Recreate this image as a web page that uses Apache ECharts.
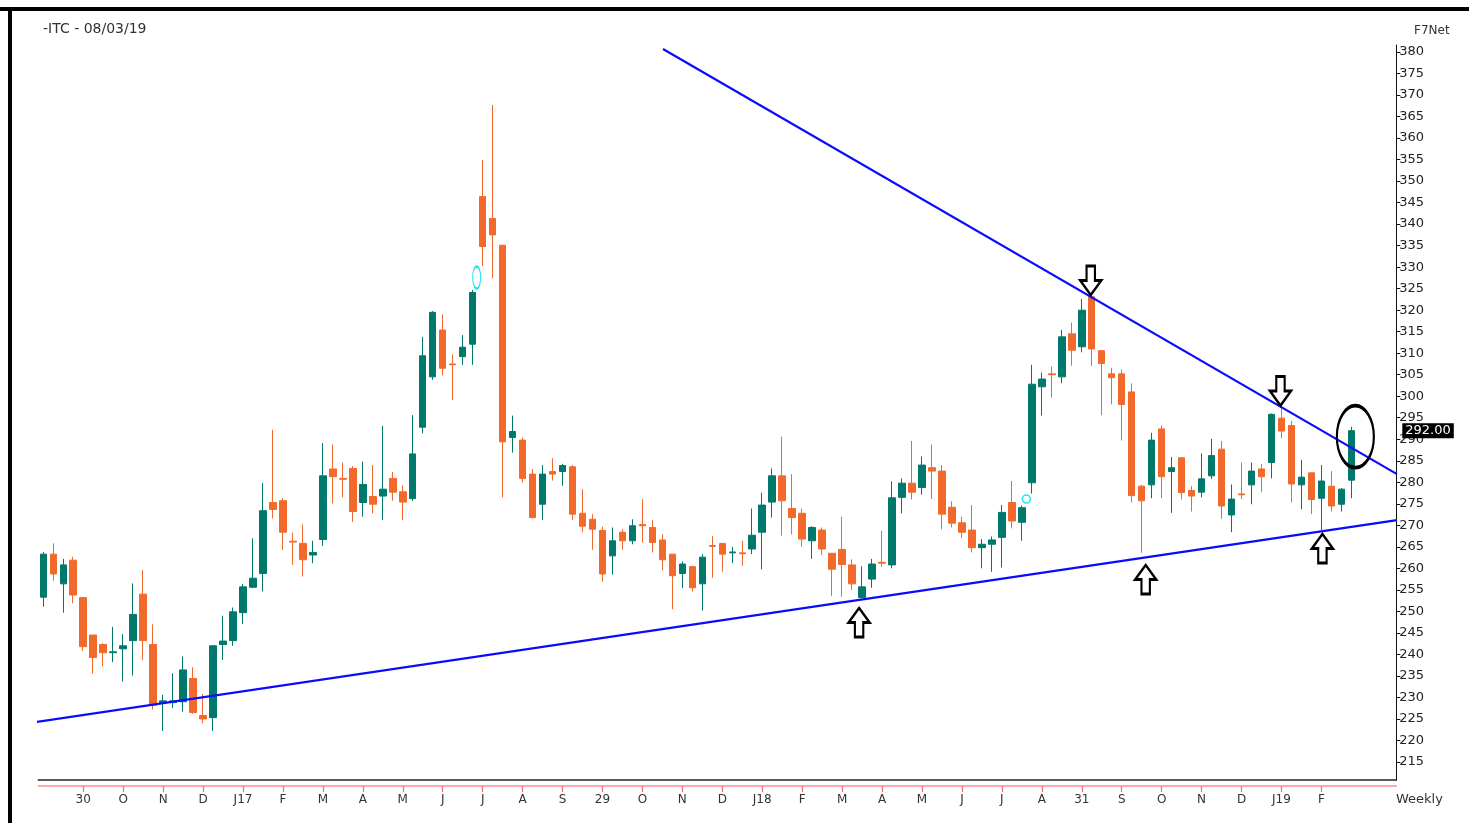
<!DOCTYPE html>
<html><head><meta charset="utf-8">
<script src="https://cdn.jsdelivr.net/npm/echarts@6/dist/echarts.min.js"></script>
<style>html,body{margin:0;padding:0;background:#fff}#main{width:1469px;height:823px}</style>
</head><body><div id="main"></div>
<script>
// Weekly ITC candles (open, close, low, high), first bar week of 02/09/16, last bar 08/03/19
const openP = [253.3,263.3,256.4,261.9,253.2,244.5,242.3,240.4,241.3,243.2,254.0,242.3,228.7,228.8,229.0,234.4,225.8,225.3,242.3,243.2,
249.7,255.6,258.8,275.3,275.7,266.3,265.8,263.1,266.7,283.1,280.9,283.2,275.3,276.7,276.8,280.9,277.8,276.2,292.8,304.5,
315.4,307.5,309.2,312.1,346.4,341.3,335.1,290.4,289.8,281.9,274.9,282.5,282.5,283.6,272.8,271.4,268.8,262.9,268.4,266.4,
270.2,269.5,266.6,263.3,258.8,260.4,256.4,265.3,265.8,263.6,263.6,264.5,268.4,275.4,281.5,273.9,272.8,266.4,268.9,263.5,
264.4,260.8,253.2,257.5,261.4,260.8,276.5,279.8,278.8,283.4,282.6,274.2,270.6,268.9,264.8,265.6,267.2,275.3,270.7,279.9,
302.2,305.2,304.5,314.5,311.5,323.1,310.6,305.2,305.2,301.0,279.1,279.4,292.4,282.5,285.7,278.1,277.7,281.5,287.7,272.4,
277.3,279.4,283.1,284.6,294.9,293.2,279.4,282.2,276.3,279.1,274.9,280.5];
const closeP = [263.3,258.7,260.8,253.8,241.8,239.3,240.4,240.6,242.0,249.3,243.2,228.2,229.2,229.2,236.4,226.5,225.0,242.0,243.1,249.9,
255.7,257.7,273.4,273.7,268.4,266.1,262.0,263.7,281.5,281.3,280.7,273.2,279.5,274.9,278.4,277.7,275.4,286.6,309.4,319.5,
306.5,307.3,311.4,324.1,334.8,337.5,289.4,291.8,280.9,271.8,281.9,281.9,283.9,272.6,269.8,269.1,258.7,266.4,266.4,269.9,
269.9,266.0,262.0,258.3,261.0,255.5,262.6,265.1,263.3,263.8,263.4,267.7,274.7,281.5,275.7,271.8,266.8,269.5,264.5,259.8,
260.9,256.4,255.7,261.0,261.2,276.4,279.8,277.7,284.0,282.6,272.6,270.5,268.4,264.8,265.6,266.6,273.0,271.0,274.1,302.8,
304.0,305.0,313.8,310.7,320.0,311.0,307.6,304.3,298.1,276.9,275.7,289.8,281.3,283.4,277.6,276.8,280.8,286.2,274.5,276.1,
277.1,282.6,281.3,295.8,291.9,279.6,281.2,276.0,280.3,274.5,278.4,292.0];
const lowP = [251.1,257.1,249.7,251.9,240.8,235.6,237.2,238.2,233.7,235.1,238.7,227.2,222.2,227.5,226.7,226.2,224.0,222.2,238.7,242.0,
247.1,255.4,254.6,271.6,264.3,260.8,258.1,261.2,265.2,275.1,276.5,270.8,272.0,272.8,271.2,275.7,271.2,275.7,291.4,303.8,
304.8,299.1,307.3,307.3,330.3,327.4,276.5,286.9,279.9,271.6,271.2,280.4,279.2,271.2,268.4,264.3,256.9,258.6,264.3,265.6,
266.0,263.7,259.5,250.5,255.4,254.6,250.2,257.8,259.2,261.2,260.6,263.3,259.8,271.8,267.6,267.9,265.0,262.2,263.1,253.6,
253.4,255.0,253.0,255.5,260.4,260.0,272.8,276.0,277.1,276.1,269.1,269.5,267.1,263.7,260.0,259.2,260.2,269.3,266.4,277.4,
295.5,299.7,303.0,307.1,310.2,307.0,295.6,298.1,289.7,275.3,263.6,276.3,276.3,272.9,276.0,273.2,276.5,280.8,271.5,268.4,
276.1,274.9,277.7,280.9,290.2,275.3,273.7,272.6,268.9,273.2,273.2,276.3];
const highP = [263.8,265.8,262.2,262.7,253.2,244.5,242.6,246.4,244.7,256.5,259.6,247.0,230.6,235.6,239.5,237.0,230.8,242.0,249.0,250.9,
256.4,267.0,279.8,292.2,276.3,268.3,270.2,266.4,289.1,288.8,284.6,283.8,284.8,284.0,293.1,282.4,279.3,295.6,313.8,319.8,
319.0,309.7,314.2,324.7,354.9,367.7,335.1,295.5,290.4,283.1,284.0,285.6,284.3,284.0,278.4,272.6,269.7,269.5,269.1,271.4,
276.1,271.2,267.9,263.3,261.6,260.6,263.3,267.5,265.8,265.0,266.4,273.9,277.6,283.2,290.6,281.9,273.9,269.8,269.5,263.5,
272.0,262.1,260.5,262.2,268.7,280.2,280.9,289.6,286.0,288.8,284.0,275.6,272.0,274.7,266.8,267.4,274.7,280.3,274.6,307.3,
305.5,306.9,315.4,317.1,322.6,323.8,310.7,306.6,306.2,303.0,279.4,291.5,293.2,285.9,285.7,279.1,286.7,290.1,289.6,279.5,
284.6,284.6,284.2,296.0,297.6,294.3,285.2,282.2,284.0,282.6,278.7,292.9];

// x tick labels, one every 4 bars (bars 4, 8, ..., 128)
const tickLabels = ['30','O','N','D','J17','F','M','A','M','J','J','A','S','29','O','N','D','J18','F','M','A','M','J','J','A','31','S','O','N','D','J19','F'];
const yTickValues = [215,220,225,230,235,240,245,250,255,260,265,270,275,280,285,290,295,300,305,310,315,320,325,330,335,340,345,350,355,360,365,370,375,380];

// annotations in bar-slot units (x) and price (y)
const upperTrend = [[62.56, 380.7],[136.07, 281.9]];
const lowerTrend = [[-0.73, 224.1],[136.07, 271.2]];
const downArrows = [[105.4, 326.9],[124.4, 301.2]];
const upArrows = [[82.2, 247.4],[110.9, 257.4],[128.6, 264.6]];
const ellipseMark = [[131.9, 290.6]];
const cyanOval = [[43.9, 327.6]];
const cyanDot = [[98.95, 276.1]];
const lastPrice = 292.00;
const padBars = 4;

// categories: weekly dates
const categories = [];
(function(){
  const d0 = new Date(Date.UTC(2016, 8, 2));
  for (let i = 0; i < openP.length; i++) {
    const d = new Date(d0.getTime() + i * 7 * 86400000);
    categories.push(('0'+d.getUTCDate()).slice(-2)+'/'+('0'+(d.getUTCMonth()+1)).slice(-2)+'/'+String(d.getUTCFullYear()).slice(2));
  }
  for (let i = 0; i < padBars; i++) categories.push('');
})();
const candles = openP.map((o, i) => [o, closeP[i], lowP[i], highP[i]]);
const showTick = (idx) => idx % 4 === 0 && idx >= 4 && idx <= 128;

const FONT = 'DejaVu Sans';
const downPath = 'path://M6,0 L14,0 L14,14 L20,14 L10,28 L0,14 L6,14 Z';
const upPath = 'path://M10,0 L20,14 L14,14 L14,28 L6,28 L6,14 L0,14 Z';
const ellPath = 'path://M0,50 A50,50 0 1 1 100,50 A50,50 0 1 1 0,50 Z';

const chart = echarts.init(document.getElementById('main'));
chart.setOption({
  animation: false,
  backgroundColor: '#fff',
  title: [
    { text: '-ITC - 08/03/19', left: 43, top: 22, padding: 0, textStyle: { fontFamily: FONT, fontSize: 14, fontWeight: 'normal', color: '#333' } },
    { text: 'F7Net', left: 1414, top: 25, padding: 0, textStyle: { fontFamily: FONT, fontSize: 12, fontWeight: 'normal', color: '#333' } },
    { text: 'Weekly', left: 1396, top: 793, padding: 0, textStyle: { fontFamily: FONT, fontSize: 13, fontWeight: 'normal', color: '#333' } }
  ],
  graphic: [
    { type: 'rect', shape: { x: 0, y: 7, width: 1469, height: 4 }, style: { fill: '#000' }, silent: true },
    { type: 'rect', shape: { x: 8, y: 7, width: 4, height: 816 }, style: { fill: '#000' }, silent: true }
  ],
  grid: { left: 38.3, right: 72.7, top: 45, bottom: 43 },
  xAxis: [
    { type: 'category', data: categories, boundaryGap: true, gridIndex: 0,
      axisLine: { onZero: false, lineStyle: { color: '#222', width: 1.5 } }, axisTick: { show: false }, axisLabel: { show: false }, splitLine: { show: false } },
    { type: 'value', min: 0, max: categories.length, show: false, gridIndex: 0, axisLine: { onZero: false } },
    { type: 'category', data: categories, boundaryGap: true, gridIndex: 0, position: 'bottom', offset: 6,
      axisLine: { onZero: false, lineStyle: { color: '#ff8c8c', width: 1.5 } },
      axisTick: { show: true, alignWithLabel: true, interval: showTick, length: 6, lineStyle: { color: '#ff6f6f', width: 1.3 } },
      axisLabel: { interval: showTick, margin: 8, color: '#333', fontFamily: FONT, fontSize: 12,
        formatter: (v, idx) => showTick(idx) ? tickLabels[idx / 4 - 1] : '' },
      splitLine: { show: false } }
  ],
  yAxis: [{
    type: 'value', position: 'right', min: 210.81, max: 381.63, scale: true,
    axisLine: { show: true, onZero: false, lineStyle: { color: '#111', width: 1 } },
    axisTick: { show: true, length: 4, customValues: yTickValues, lineStyle: { color: '#111' } },
    axisLabel: { customValues: yTickValues, margin: 3, color: '#222', fontFamily: FONT, fontSize: 13 },
    splitLine: { show: false }
  }],
  series: [
    { type: 'candlestick', xAxisIndex: 0, yAxisIndex: 0, data: candles, barWidth: 7,
      itemStyle: { color: '#00786c', color0: '#f26a2b', borderColor: '#00786c', borderColor0: '#f26a2b', borderWidth: 1 },
      markLine: { silent: true, symbol: ['none', 'none'], lineStyle: { color: 'rgba(0,0,0,0)', width: 0, type: 'solid' },
        data: [{ yAxis: lastPrice }],
        label: { show: true, position: 'end', distance: 6, formatter: lastPrice.toFixed(2), color: '#fff', backgroundColor: '#000',
          padding: [1, 3], fontFamily: FONT, fontSize: 13 } } },
    { type: 'line', xAxisIndex: 1, data: upperTrend, showSymbol: false, clip: false, silent: true,
      lineStyle: { color: '#0a0aff', width: 2.2 } },
    { type: 'line', xAxisIndex: 1, data: lowerTrend, showSymbol: false, clip: false, silent: true,
      lineStyle: { color: '#0a0aff', width: 2.2 } },
    { type: 'scatter', xAxisIndex: 1, data: downArrows, symbol: downPath, symbolSize: [21, 29], clip: false, silent: true, z: 5,
      itemStyle: { color: '#fff', borderColor: '#000', borderWidth: 2.5, opacity: 1 } },
    { type: 'scatter', xAxisIndex: 1, data: upArrows, symbol: upPath, symbolSize: [21, 29], clip: false, silent: true, z: 5,
      itemStyle: { color: '#fff', borderColor: '#000', borderWidth: 2.5, opacity: 1 } },
    { type: 'scatter', xAxisIndex: 1, data: ellipseMark, symbol: ellPath, symbolSize: [37, 62], clip: false, silent: true, z: 5,
      itemStyle: { color: 'rgba(0,0,0,0)', borderColor: '#000', borderWidth: 2.8, opacity: 1 } },
    { type: 'scatter', xAxisIndex: 1, data: cyanOval, symbol: ellPath, symbolSize: [8, 22], clip: false, silent: true, z: 5,
      itemStyle: { color: 'rgba(255,255,255,0)', borderColor: '#19e6f0', borderWidth: 1.5, opacity: 1 } },
    { type: 'scatter', xAxisIndex: 1, data: cyanDot, symbol: ellPath, symbolSize: [8, 8], clip: false, silent: true, z: 5,
      itemStyle: { color: 'rgba(255,255,255,0)', borderColor: '#19e6f0', borderWidth: 1.5, opacity: 1 } }
  ]
});
</script></body></html>
